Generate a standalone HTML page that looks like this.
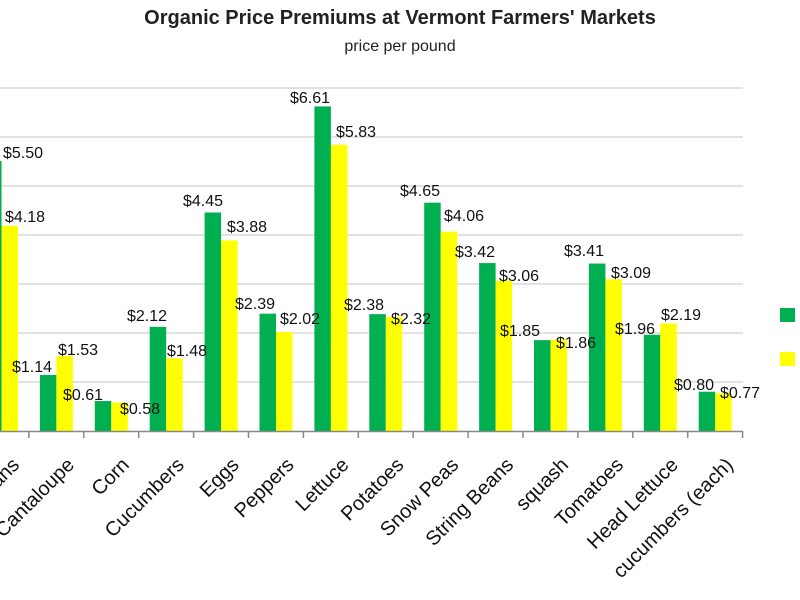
<!DOCTYPE html>
<html><head><meta charset="utf-8"><style>body{margin:0;background:#fff}svg{display:block}</style></head>
<body>
<svg width="800" height="600" xmlns="http://www.w3.org/2000/svg" font-family="Liberation Sans, sans-serif">
<rect width="800" height="600" fill="#fff"/>
<text x="400" y="24" text-anchor="middle" font-size="20" font-weight="bold" fill="#222">Organic Price Premiums at Vermont Farmers' Markets</text>
<text x="400" y="51" text-anchor="middle" font-size="16" fill="#222">price per pound</text>
<g stroke="#d9d9d9" stroke-width="1.5">
<line x1="0" x2="743" y1="88" y2="88"/><line x1="0" x2="743" y1="137" y2="137"/><line x1="0" x2="743" y1="186" y2="186"/><line x1="0" x2="743" y1="235" y2="235"/><line x1="0" x2="743" y1="284" y2="284"/><line x1="0" x2="743" y1="333" y2="333"/><line x1="0" x2="743" y1="382" y2="382"/>
</g>
<g id="bars"></g>
<line x1="0" x2="743" y1="431.5" y2="431.5" stroke="#888" stroke-width="1.5"/>
<g id="ticks" stroke="#888" stroke-width="1.5"></g>
<g id="labels" font-size="16" fill="#111"></g>
<g id="cats" font-size="20" fill="#111"></g>
<rect x="780" y="308" width="15" height="14" fill="#00b050"/>
<rect x="780" y="352" width="15" height="14" fill="#ffff00"/>
<script>
var ns="http://www.w3.org/2000/svg";
var g=[5.50,1.14,0.61,2.12,4.45,2.39,6.61,2.38,4.65,3.42,1.85,3.41,1.96,0.80];
var y=[4.18,1.53,0.58,1.48,3.88,2.02,5.83,2.32,4.06,3.06,1.86,3.09,2.19,0.77];
var cats=["Beans","Cantaloupe","Corn","Cucumbers","Eggs","Peppers","Lettuce","Potatoes","Snow Peas","String Beans","squash","Tomatoes","Head Lettuce","cucumbers (each)"];
function el(t,a,p,txt){var e=document.createElementNS(ns,t);for(var k in a)e.setAttribute(k,a[k]);if(txt)e.textContent=txt;document.getElementById(p).appendChild(e);}
var U=49.1,B=431;
for(var i=0;i<14;i++){var c=1.5+54.9*i;
el("rect",{x:c-16.5,y:B-g[i]*U,width:16.5,height:g[i]*U,fill:"#00b050"},"bars");
el("rect",{x:c,y:B-y[i]*U,width:16.5,height:y[i]*U,fill:"#ffff00"},"bars");
var tx=c+27.4;el("line",{x1:tx,x2:tx,y1:431,y2:438},"ticks");
el("text",{x:0,y:0,"text-anchor":"end",transform:"translate("+(c+19)+",466) rotate(-45)"},"cats",cats[i]);}
var L=[[0,152,"$5.50"],[2,216,"$4.18"],[9,366,"$1.14"],[55,349,"$1.53"],[60,394,"$0.61"],[117,408,"$0.58"],[124,315,"$2.12"],[164,350,"$1.48"],[180,200,"$4.45"],[224,226,"$3.88"],[232,303,"$2.39"],[277,318,"$2.02"],[287,97,"$6.61"],[333,131,"$5.83"],[341,304,"$2.38"],[388,318,"$2.32"],[397,190,"$4.65"],[441,215,"$4.06"],[452,251,"$3.42"],[496,275,"$3.06"],[497,330,"$1.85"],[553,342,"$1.86"],[561,250,"$3.41"],[608,272,"$3.09"],[612,328,"$1.96"],[658,314,"$2.19"],[671,384,"$0.80"],[717,392,"$0.77"]];
L.forEach(function(l){el("text",{x:l[0]+23,y:l[1]+6,"text-anchor":"middle"},"labels",l[2]);});
</script>
</svg>
</body></html>
